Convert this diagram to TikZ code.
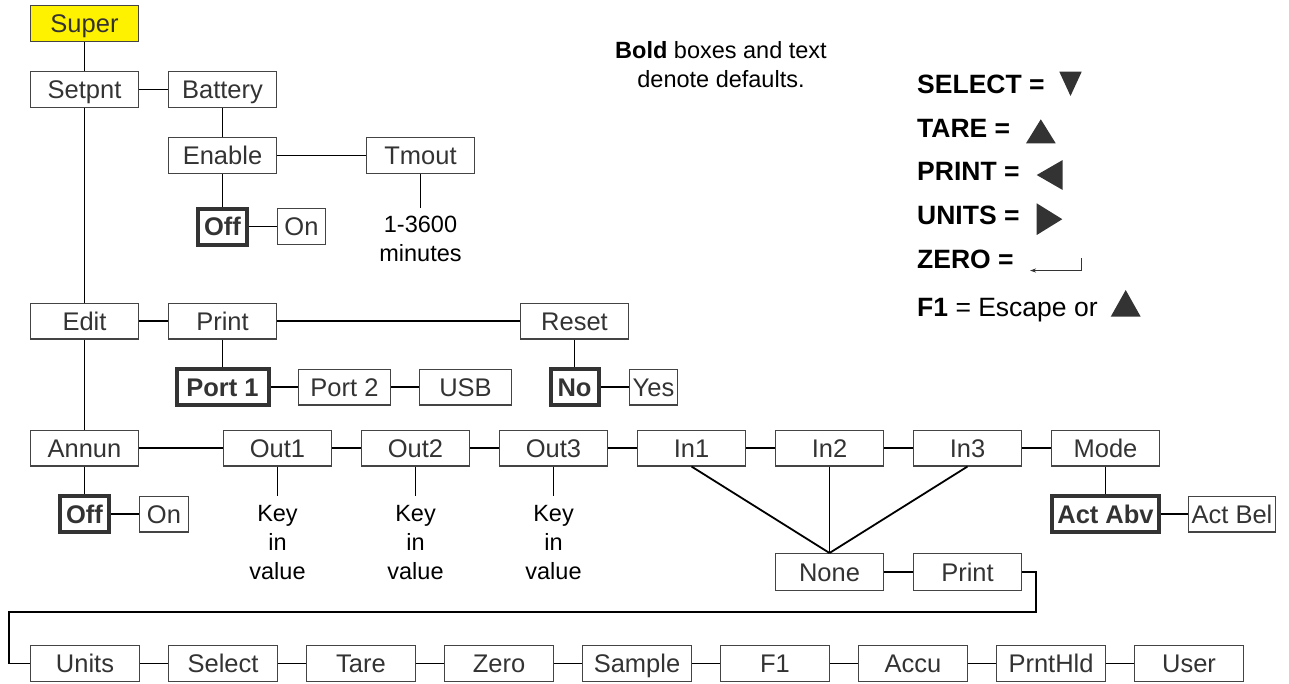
\documentclass[tikz,border=0pt]{standalone}
\usepackage{fontspec}
\setmainfont{Liberation Sans}
\usetikzlibrary{arrows.meta}
\definecolor{boxline}{HTML}{444444}
\definecolor{boxtext}{HTML}{333333}
\definecolor{superyel}{HTML}{FFF200}
\begin{document}
\begin{tikzpicture}[x=1pt,y=-1pt,
  box/.style={draw=boxline, line width=1.4pt, rectangle, inner sep=0pt,
    minimum width=107.6pt, minimum height=35.6pt, text=boxtext,
    font=\fontsize{25.5}{30}\selectfont, text height=18.3pt, text depth=0pt},
  dflt/.style={box, line width=4pt, draw=boxtext,
    font=\fontsize{25.5}{30}\selectfont\bfseries, minimum height=36pt},
  conn/.style={line width=1.8pt, black},
  free/.style={font=\fontsize{23.5}{29}\selectfont, align=center, inner sep=0pt},
  leg/.style={font=\fontsize{26.5}{30}\selectfont, anchor=west, inner sep=0pt,
    text height=19pt, text depth=0pt},
  tri/.style={fill=boxtext, draw=none}]
\useasboundingbox (0,0) rectangle (1289,683);

% --- top branch
\node[box, fill=superyel] (super) at (84.5,23.5) {Super};
\node[box] (setpnt) at (84.5,89.5) {Setpnt};
\node[box] (battery) at (222.5,89.5) {Battery};
\node[box] (enable) at (222.5,155.5) {Enable};
\node[box] (tmout) at (420.5,155.5) {Tmout};
\node[dflt, minimum width=49pt] (off1) at (222.5,226.5) {Off};
\node[box, minimum width=47.6pt] (on1) at (301.5,226.5) {On};
\node[free] (tmtext) at (420.5,239) {1-3600\\minutes};
\coordinate (tmend) at (420.5,208);

% --- edit branch
\node[box] (edit) at (84.5,321) {Edit};
\node[box] (print) at (222.5,321) {Print};
\node[box] (reset) at (574.5,321) {Reset};
\node[dflt, minimum width=92pt] (port1) at (222.5,387) {Port 1};
\node[box, minimum width=91.6pt] (port2) at (344.5,387) {Port 2};
\node[box, minimum width=91.6pt] (usb) at (465.5,387) {USB};
\node[dflt, minimum width=48pt] (no) at (574.5,387) {No};
\node[box, minimum width=47.6pt] (yes) at (653.5,387) {Yes};

% --- annun branch
\node[box] (annun) at (84.5,448) {Annun};
\node[box] (out1) at (277.5,448) {Out1};
\node[box] (out2) at (415.5,448) {Out2};
\node[box] (out3) at (553.5,448) {Out3};
\node[box] (in1) at (691.5,448) {In1};
\node[box] (in2) at (829.5,448) {In2};
\node[box] (in3) at (967.5,448) {In3};
\node[box] (mode) at (1105.5,448) {Mode};
\node[dflt, minimum width=49pt] (off2) at (84.5,514) {Off};
\node[box, minimum width=48.6pt] (on2) at (164,514) {On};
\node[free] (key1) at (277.5,543) {Key\\in\\value};
\node[free] (key2) at (415.5,543) {Key\\in\\value};
\node[free] (key3) at (553.5,543) {Key\\in\\value};
\coordinate (k1end) at (277.5,496);
\coordinate (k2end) at (415.5,496);
\coordinate (k3end) at (553.5,496);
\node[dflt, minimum width=107pt] (actabv) at (1105.5,514) {Act Abv};
\node[box, minimum width=86.6pt] (actbel) at (1232,514) {Act Bel};
\node[box, minimum height=36.6pt] (none) at (829.5,572) {None};
\node[box, minimum height=36.6pt] (print2) at (967.5,572) {Print};

% --- bottom row
\node[box, minimum width=108.6pt] (units) at (85,663.5) {Units};
\node[box, minimum width=108.6pt] (select) at (223,663.5) {Select};
\node[box, minimum width=108.6pt] (tare) at (361,663.5) {Tare};
\node[box, minimum width=108.6pt] (zero) at (499,663.5) {Zero};
\node[box, minimum width=108.6pt] (sample) at (637,663.5) {Sample};
\node[box, minimum width=108.6pt] (f1) at (775,663.5) {F1};
\node[box, minimum width=108.6pt] (accu) at (913,663.5) {Accu};
\node[box, minimum width=108.6pt] (prnthld) at (1051,663.5) {PrntHld};
\node[box, minimum width=108.6pt] (user) at (1189,663.5) {User};

% --- connectors
\draw[conn] (super) -- (setpnt);
\draw[conn] (setpnt) -- (battery);
\draw[conn] (battery) -- (enable);
\draw[conn] (enable) -- (off1);
\draw[conn] (off1) -- (on1);
\draw[conn] (enable) -- (tmout);
\draw[conn] (tmout) -- (tmend);
\draw[conn] (setpnt) -- (edit);
\draw[conn] (edit) -- (print);
\draw[conn] (print) -- (reset);
\draw[conn] (print) -- (port1);
\draw[conn] (port1) -- (port2);
\draw[conn] (port2) -- (usb);
\draw[conn] (reset) -- (no);
\draw[conn] (no) -- (yes);
\draw[conn] (edit) -- (annun);
\draw[conn] (annun) -- (off2);
\draw[conn] (off2) -- (on2);
\draw[conn] (annun) -- (out1);
\draw[conn] (out1) -- (out2);
\draw[conn] (out2) -- (out3);
\draw[conn] (out3) -- (in1);
\draw[conn] (in1) -- (in2);
\draw[conn] (in2) -- (in3);
\draw[conn] (in3) -- (mode);
\draw[conn] (out1) -- (k1end);
\draw[conn] (out2) -- (k2end);
\draw[conn] (out3) -- (k3end);
\draw[conn] (mode) -- (actabv);
\draw[conn] (actabv) -- (actbel);
\draw[conn] (in1.south) -- (none.north);
\draw[conn] (in2.south) -- (none.north);
\draw[conn] (in3.south) -- (none.north);
\draw[conn] (none) -- (print2);
\draw[conn] (print2.east) -- ++(14,0) -- ++(0,40) -| ([xshift=-21pt]units.west) -- (units.west);
\draw[conn] (units) -- (select);
\draw[conn] (select) -- (tare);
\draw[conn] (tare) -- (zero);
\draw[conn] (zero) -- (sample);
\draw[conn] (sample) -- (f1);
\draw[conn] (f1) -- (accu);
\draw[conn] (accu) -- (prnthld);
\draw[conn] (prnthld) -- (user);

% --- note
\node[free] (note) at (721,65) {\textbf{Bold} boxes and text\\denote defaults.};

% --- legend
\node[leg] (lsel) at (917,83.7) {\textbf{SELECT =}};
\node[leg] (ltare) at (917,127.5) {\textbf{TARE =}};
\node[leg] (lprint) at (917,171.3) {\textbf{PRINT =}};
\node[leg] (lunits) at (917,215) {\textbf{UNITS =}};
\node[leg] (lzero) at (917,258.7) {\textbf{ZERO =}};
\node[leg] (lf1) at (917,307) {\textbf{F1} = Escape or};
\fill[tri] (1059.3,71.7) -- (1081.7,71.7) -- (1070.5,96) -- cycle;
\fill[tri] (1026,143.3) -- (1055.7,143.3) -- (1040.8,119.3) -- cycle;
\fill[tri] (1062.7,160) -- (1062.7,190) -- (1036.7,175) -- cycle;
\fill[tri] (1036.7,203.3) -- (1036.7,235) -- (1062.3,219.2) -- cycle;
\draw[boxtext, line width=1pt, -{Stealth[length=6pt,width=4pt]}] (1081.7,258.3) -- (1081.7,270.5) -- (1030,270.5);
\fill[tri] (1110.7,316.7) -- (1140.7,316.7) -- (1125.7,290) -- cycle;
\end{tikzpicture}
\end{document}
